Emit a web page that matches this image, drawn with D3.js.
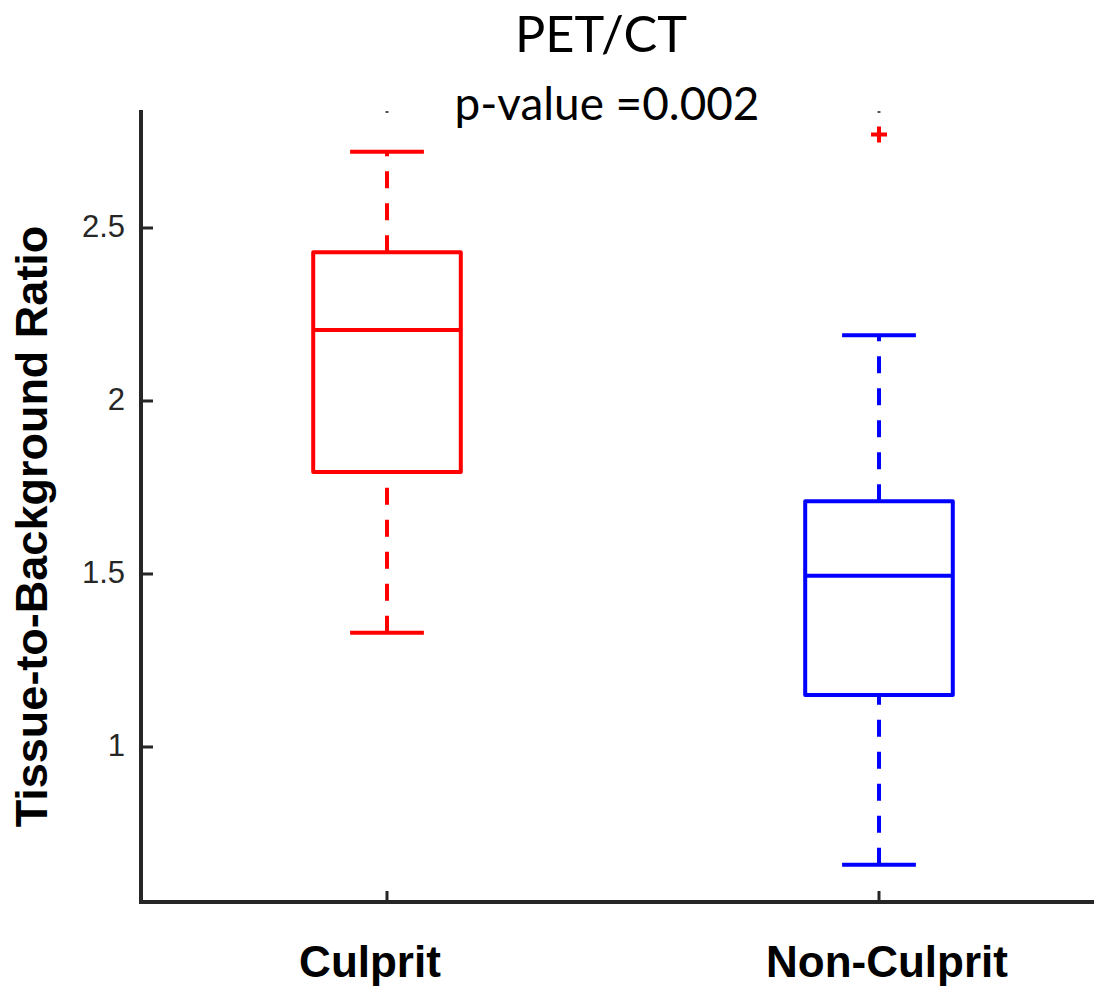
<!DOCTYPE html>
<html>
<head>
<meta charset="utf-8">
<script src="https://cdn.jsdelivr.net/npm/d3@7"></script>
<style>
  html, body { margin: 0; padding: 0; background: #ffffff; }
  svg { display: block; }
</style>
</head>
<body>
<svg id="chart" width="1094" height="989"></svg>
<script>
// ---- data ----
const categories    = ["Culprit", "Non-Culprit"];
const colors        = ["#ff0000", "#0000ff"];
const upperWhisker  = [2.72, 2.19];
const q3            = [2.43, 1.71];
const medians       = [2.205, 1.495];
const q1            = [1.795, 1.15];
const lowerWhisker  = [1.33, 0.66];
const outliers      = [[], [2.77]];
const yTicks        = [1, 1.5, 2, 2.5];
const yTickLabels   = ["1", "1.5", "2", "2.5"];
const titleText     = "PET/CT";
const subtitleText  = "p-value =0.002";
const yLabelText    = "Tissue-to-Background Ratio";

// ---- layout ----
const svg = d3.select("#chart");
const axisColor = "#262626";
const x = d3.scaleLinear().domain([0.5, 2.5]).range([141, 1125]);
const y = d3.scaleLinear().domain([0.552, 2.841]).range([902, 110]);
const boxHalf = 0.15, capHalf = 0.075;
const labelShift = [-17, 8];

// axes lines
svg.append("line").attr("x1", x(0.5)).attr("x2", 1094).attr("y1", y(0.552)).attr("y2", y(0.552))
  .attr("stroke", axisColor).attr("stroke-width", 4);
svg.append("line").attr("x1", x(0.5)).attr("x2", x(0.5)).attr("y1", y(2.841)).attr("y2", y(0.552) + 2)
  .attr("stroke", axisColor).attr("stroke-width", 4);

// y ticks (inward) + labels
yTicks.forEach((t, i) => {
  svg.append("line").attr("x1", x(0.5)).attr("x2", x(0.5) + 12).attr("y1", y(t)).attr("y2", y(t))
    .attr("stroke", axisColor).attr("stroke-width", 3);
  svg.append("text").attr("x", 125).attr("y", y(t)).attr("dy", "0.3em")
    .attr("text-anchor", "end").attr("font-family", "Liberation Sans, Arial, sans-serif")
    .attr("font-size", 31).attr("fill", "#262626").text(yTickLabels[i]);
});

// x ticks (inward) + tiny top marks + labels
categories.forEach((c, i) => {
  const cx = x(i + 1);
  svg.append("line").attr("x1", cx).attr("x2", cx).attr("y1", y(0.552)).attr("y2", y(0.552) - 11)
    .attr("stroke", axisColor).attr("stroke-width", 3);
  svg.append("line").attr("x1", cx - 1.5).attr("x2", cx + 1.5).attr("y1", y(2.841) + 2).attr("y2", y(2.841) + 2)
    .attr("stroke", "#555").attr("stroke-width", 2);
  svg.append("text").attr("x", cx + labelShift[i]).attr("y", 977).attr("text-anchor", "middle")
    .attr("font-family", "Liberation Sans, Arial, sans-serif").attr("font-weight", "bold")
    .attr("font-size", 44).attr("fill", "#000").text(c);
});

// y label
svg.append("text").attr("transform", `translate(47, ${(225 + 828) / 2}) rotate(-90)`)
  .attr("text-anchor", "middle").attr("font-family", "Liberation Sans, Arial, sans-serif")
  .attr("font-weight", "bold").attr("font-size", 45).attr("fill", "#000").text(yLabelText);

// title + subtitle (fit to measured widths)
function fitText(txt, cx, baseline, targetW) {
  const t = svg.append("text").attr("x", cx).attr("y", baseline).attr("text-anchor", "middle")
    .attr("font-family", "Lato, 'Open Sans', sans-serif").attr("font-size", 40).attr("fill", "#000").text(txt);
  const w = t.node().getComputedTextLength();
  t.attr("font-size", 40 * targetW / w);
}
fitText(titleText, 601, 52, 172);
fitText(subtitleText, 607, 120, 305);

// boxes
categories.forEach((c, i) => {
  const p = i + 1, col = colors[i];
  const g = svg.append("g").attr("stroke", col).attr("fill", "none").attr("stroke-width", 4);
  // whiskers (dashed)
  g.append("line").attr("x1", x(p)).attr("x2", x(p)).attr("y1", y(q3[i])).attr("y2", y(upperWhisker[i]))
    .attr("stroke-dasharray", "17,15");
  g.append("line").attr("x1", x(p)).attr("x2", x(p)).attr("y1", y(lowerWhisker[i])).attr("y2", y(q1[i]))
    .attr("stroke-dasharray", "17,15");
  // caps
  g.append("line").attr("x1", x(p - capHalf)).attr("x2", x(p + capHalf))
    .attr("y1", y(upperWhisker[i])).attr("y2", y(upperWhisker[i]));
  g.append("line").attr("x1", x(p - capHalf)).attr("x2", x(p + capHalf))
    .attr("y1", y(lowerWhisker[i])).attr("y2", y(lowerWhisker[i]));
  // box
  g.append("rect").attr("x", x(p - boxHalf)).attr("y", y(q3[i]))
    .attr("width", x(p + boxHalf) - x(p - boxHalf)).attr("height", y(q1[i]) - y(q3[i]))
    .attr("stroke-linejoin", "round");
  // median
  g.append("line").attr("x1", x(p - boxHalf)).attr("x2", x(p + boxHalf))
    .attr("y1", y(medians[i])).attr("y2", y(medians[i]));
  // outliers (red +)
  outliers[i].forEach(v => {
    const cx = x(p), cy = y(v), a = 8;
    svg.append("path").attr("d", `M${cx - a},${cy}H${cx + a}M${cx},${cy - a}V${cy + a}`)
      .attr("stroke", "#ff0000").attr("stroke-width", 4).attr("fill", "none");
  });
});
</script>
</body>
</html>
